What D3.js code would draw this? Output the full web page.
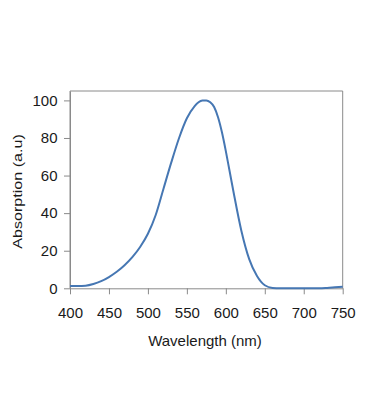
<!DOCTYPE html>
<html><head><meta charset="utf-8">
<script src="https://cdn.jsdelivr.net/npm/d3@7"></script>
<style>html,body{margin:0;padding:0;background:#fff;}svg{display:block;}</style>
</head><body>
<svg id="chart" width="367" height="420"></svg>
<script>
const wavelengths = [400,410,420,430,440,450,460,470,480,490,500,510,520,530,540,550,560,565,570,575,580,585,590,595,600,605,610,620,630,640,650,660,670,680,690,700,710,720,730,740,750];
const absorption  = [1.2,1.2,1.4,2.3,3.8,6.0,8.8,12.3,16.6,22,29,39,53,67,80,90.5,97,99,99.9,100,99,96.5,91,83,73,62,51,30.5,15.5,6.5,1.6,0.2,0,0,0,0,0,0,0.2,0.5,0.8];
const xTicks = [400,450,500,550,600,650,700,750];
const yTicks = [0,20,40,60,80,100];

const svg = d3.select("#chart");
const x = d3.scaleLinear().domain([400,750]).range([70,342.7]);
const y = d3.scaleLinear().domain([0,105]).range([288.3,91]);
const grey = "#8a8a8a";
const font = "'Liberation Sans', Arial, sans-serif";

// frame
svg.append("path")
  .attr("d", `M${x(400)},${y(0)}V${y(105)}H${x(750)}V${y(0)}`)
  .attr("fill","none").attr("stroke",grey).attr("stroke-width",1);

const xAxis = svg.append("g").attr("transform",`translate(0,${y(0)})`)
  .call(d3.axisBottom(x).tickValues(xTicks).tickSize(6).tickPadding(13).tickSizeOuter(0));
const yAxis = svg.append("g").attr("transform",`translate(${x(400)},0)`)
  .call(d3.axisLeft(y).tickValues(yTicks).tickSize(6).tickPadding(6.5).tickSizeOuter(0));
[xAxis,yAxis].forEach(a=>{
  a.selectAll("path,line").attr("stroke",grey);
  a.selectAll("text").attr("fill","#1a1a1a").style("font-family",font).style("font-size","15px");
});

const line = d3.line().x((d,i)=>x(wavelengths[i])).y(d=>y(d)).curve(d3.curveMonotoneX);
svg.append("path").datum(absorption).attr("d",line)
  .attr("fill","none").attr("stroke","#4677b3").attr("stroke-width",2);

svg.append("text").attr("x",205).attr("y",345.5)
  .attr("text-anchor","middle").attr("fill","#1a1a1a")
  .style("font-family",font).style("font-size","15px").text("Wavelength (nm)");
svg.append("text").attr("transform","translate(21.5,191.5) rotate(-90) scale(1.22,1)")
  .attr("text-anchor","middle").attr("fill","#1a1a1a")
  .style("font-family",font).style("font-size","13.2px").text("Absorption (a.u)");
</script>
</body></html>
